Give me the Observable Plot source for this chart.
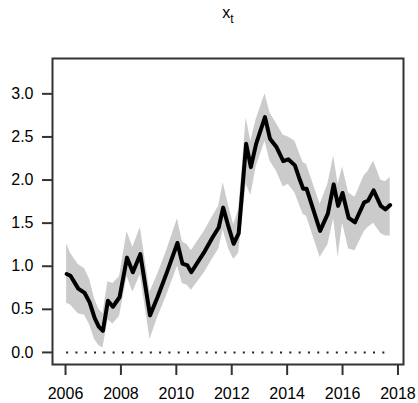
<!DOCTYPE html>
<html>
<head>
<meta charset="utf-8">
<script src="https://cdn.jsdelivr.net/npm/d3@7"></script>
<script src="https://cdn.jsdelivr.net/npm/@observablehq/plot@0.6"></script>
<style>
  html, body { margin: 0; padding: 0; background: white; }
  #chart { width: 418px; height: 403px; }
</style>
</head>
<body>
<div id="chart"></div>
<script>
const dates = [2006.04, 2006.18, 2006.46, 2006.69, 2006.87, 2007.05, 2007.2, 2007.35, 2007.53, 2007.71,
  2007.95, 2008.22, 2008.43, 2008.70, 2009.05, 2009.32, 2009.65, 2010.04, 2010.22, 2010.40,
  2010.54, 2011.0, 2011.3, 2011.53, 2011.69, 2011.89, 2012.07, 2012.25, 2012.52, 2012.69,
  2012.88, 2013.2, 2013.38, 2013.62, 2013.86, 2014.04, 2014.28, 2014.46, 2014.58, 2014.70,
  2015.19, 2015.47, 2015.68, 2015.84, 2016.0, 2016.22, 2016.45, 2016.78, 2016.92, 2017.12,
  2017.38, 2017.55, 2017.72];
const xt = [0.91, 0.89, 0.74, 0.69, 0.58, 0.40, 0.30, 0.25, 0.60, 0.53,
  0.64, 1.10, 0.93, 1.14, 0.43, 0.64, 0.92, 1.27, 1.03, 1.01,
  0.93, 1.16, 1.33, 1.45, 1.68, 1.45, 1.26, 1.38, 2.42, 2.15,
  2.42, 2.73, 2.48, 2.38, 2.22, 2.24, 2.17, 2.00, 1.90, 1.90,
  1.41, 1.61, 1.95, 1.70, 1.85, 1.56, 1.51, 1.74, 1.76, 1.88,
  1.70, 1.66, 1.71];
const lower = [0.57, 0.55, 0.45, 0.43, 0.32, 0.15, 0.08, 0.05, 0.38, 0.33,
  0.42, 0.88, 0.70, 0.90, 0.15, 0.40, 0.66, 1.00, 0.80, 0.78,
  0.72, 0.92, 1.08, 1.20, 1.42, 1.20, 1.08, 1.15, 1.95, 1.82,
  2.15, 2.45, 2.22, 2.10, 1.92, 1.95, 1.85, 1.70, 1.60, 1.58,
  1.10, 1.25, 1.55, 1.10, 1.50, 1.20, 1.18, 1.40, 1.45, 1.50,
  1.38, 1.35, 1.35];
const upper = [1.26, 1.15, 1.02, 0.97, 0.85, 0.62, 0.50, 0.45, 0.82, 0.80,
  0.88, 1.40, 1.22, 1.45, 0.70, 0.90, 1.18, 1.55, 1.28, 1.25,
  1.18, 1.40, 1.57, 1.70, 1.97, 1.70, 1.48, 1.65, 2.72, 2.45,
  2.70, 3.00, 2.78, 2.65, 2.52, 2.50, 2.45, 2.30, 2.20, 2.18,
  1.72, 1.95, 2.28, 1.95, 2.15, 1.85, 1.80, 2.05, 2.10, 2.22,
  2.00, 1.98, 2.03];
const xTicks = [2006, 2008, 2010, 2012, 2014, 2016, 2018];
const yTicks = [0, 0.5, 1.0, 1.5, 2.0, 2.5, 3.0];

const data = dates.map((t, i) => ({t, v: xt[i], lo: lower[i], hi: upper[i]}));
const font = "'Liberation Sans', Arial, Helvetica, sans-serif";

const chart = Plot.plot({
  width: 418,
  height: 403,
  marginLeft: 52,
  marginRight: 15,
  marginTop: 58,
  marginBottom: 39,
  style: {fontFamily: font, fontSize: "16px", background: "white", color: "black"},
  x: {domain: [2005.53, 2018.2]},
  y: {domain: [-0.14, 3.41]},
  marks: [
    Plot.areaY(data, {x: "t", y1: "lo", y2: "hi", fill: "#cbcbcb", curve: "linear"}),
    Plot.ruleY([0], {x1: dates[0], x2: dates[dates.length - 1], stroke: "#222", strokeWidth: 2, strokeDasharray: "2,7.3"}),
    Plot.lineY(data, {x: "t", y: "v", stroke: "black", strokeWidth: 4, strokeLinejoin: "round", strokeLinecap: "round"}),
    Plot.frame({stroke: "#333", strokeWidth: 2}),
    Plot.axisX({ticks: xTicks, tickFormat: d => String(d), tickSize: 11, tickPadding: 12, strokeWidth: 2, stroke: "#333", label: null, fontSize: 16}),
    Plot.axisY({ticks: yTicks, tickFormat: d => d.toFixed(1), tickSize: 10, tickPadding: 9, strokeWidth: 2, stroke: "#333", label: null, fontSize: 16})
  ]
});

const svg = d3.select(chart);
const title = svg.append("text")
  .attr("x", 228)
  .attr("y", 18)
  .attr("text-anchor", "middle")
  .attr("font-family", font)
  .attr("font-size", 16)
  .attr("fill", "black");
title.append("tspan").text("x");
title.append("tspan").attr("font-size", 12).attr("dy", 5).text("t");

document.getElementById("chart").appendChild(chart);
</script>
</body>
</html>
